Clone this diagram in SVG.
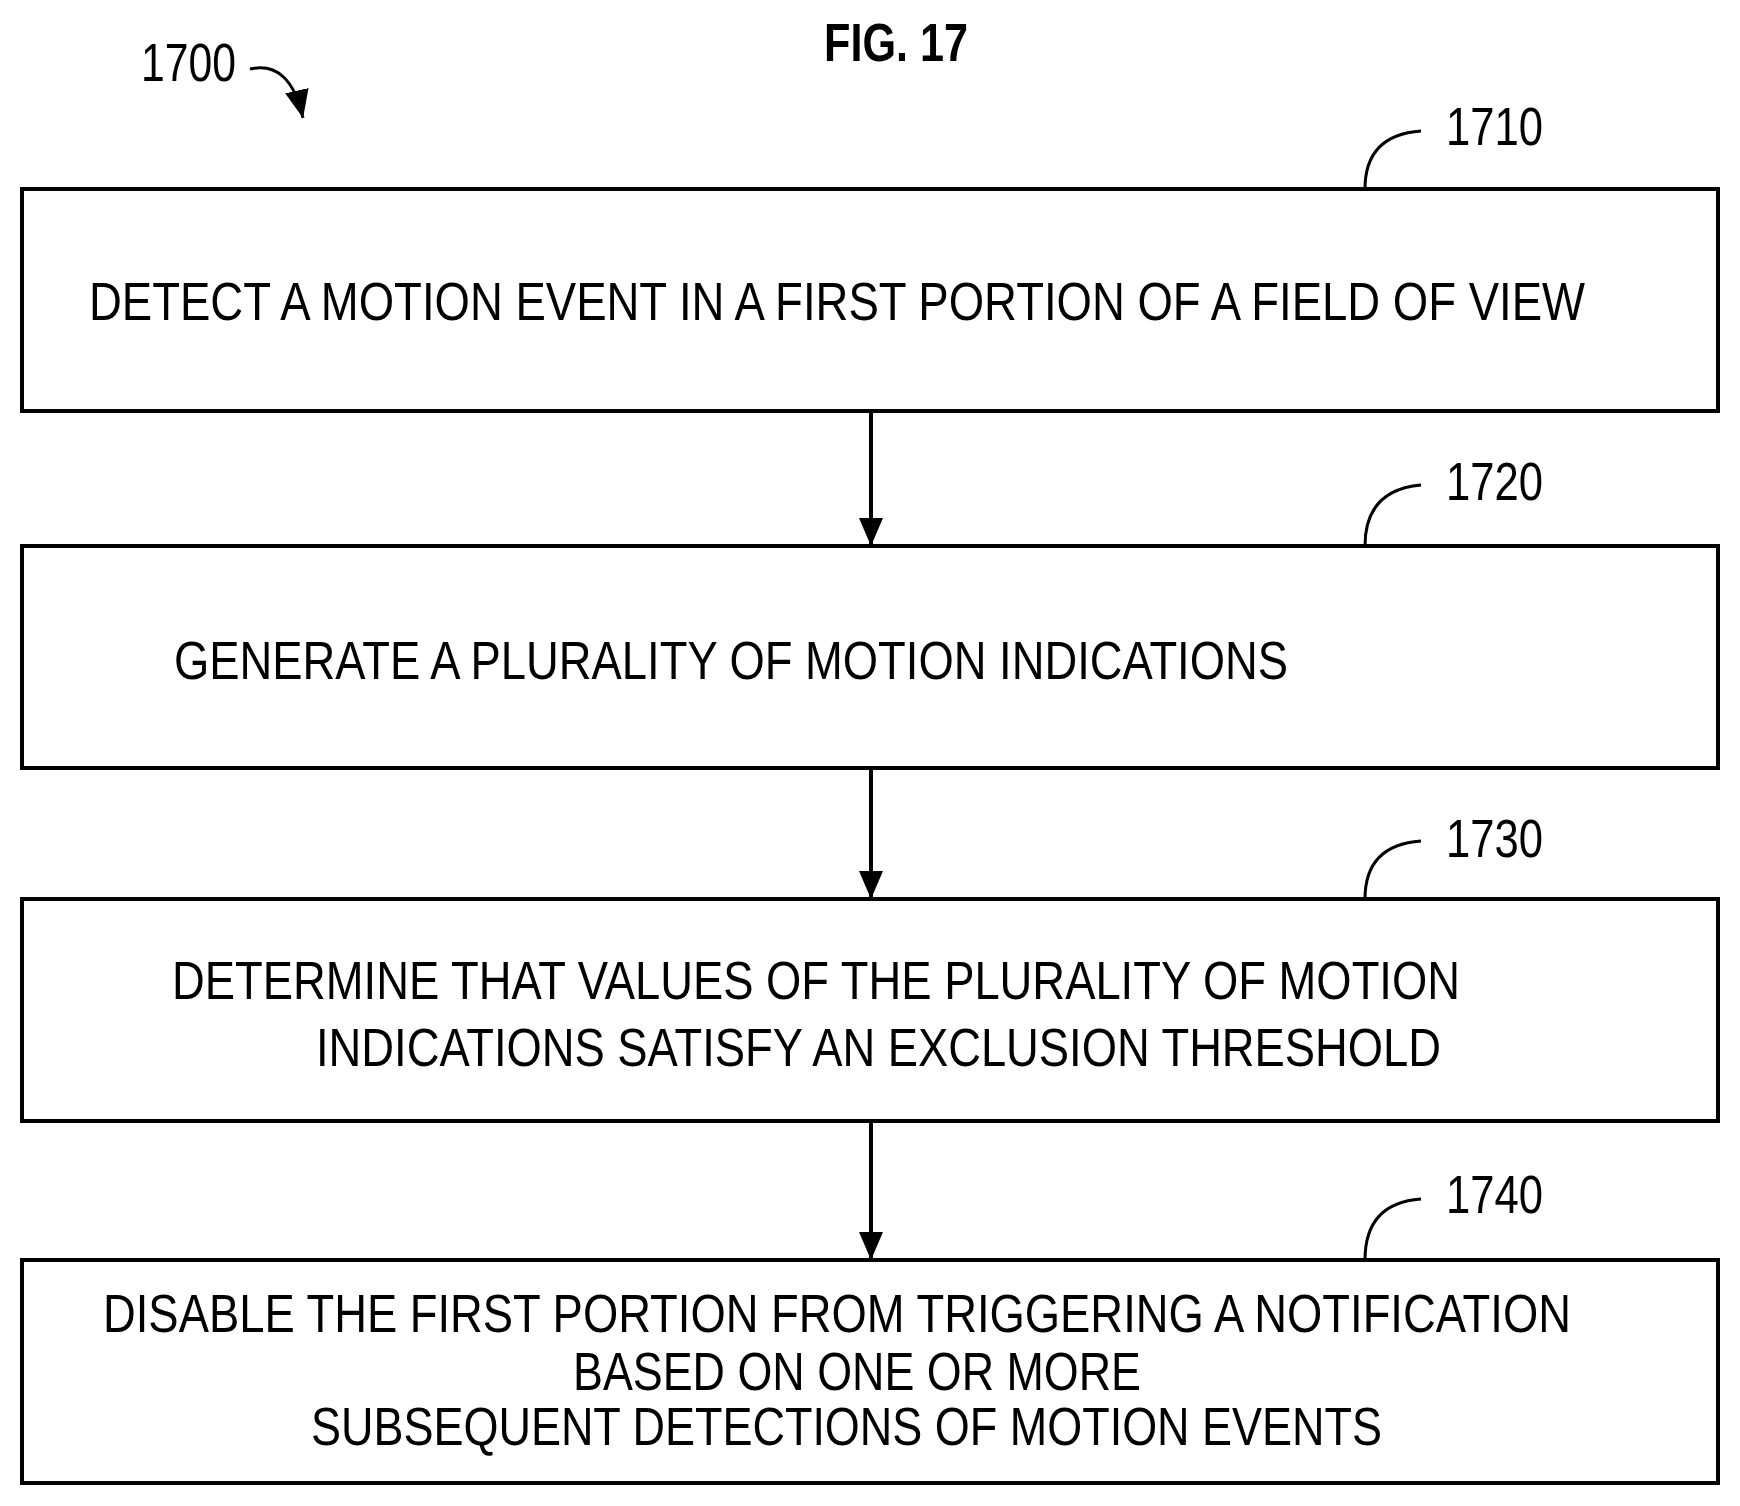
<svg xmlns="http://www.w3.org/2000/svg" width="1740" height="1506" viewBox="0 0 1740 1506">
<style>
.b{fill:#fff;stroke:#000;stroke-width:4}
.t{font-family:"Liberation Sans",Arial,sans-serif;font-size:54px;fill:#000}
.l{fill:none;stroke:#000;stroke-width:3}
</style>
<defs><marker id="ah" markerWidth="10" markerHeight="10" refX="9" refY="5" orient="auto" markerUnits="userSpaceOnUse"><path d="M0,0L10,5L0,10z" transform="scale(1)"/></marker>
<marker id="a2" markerWidth="30" markerHeight="30" refX="28" refY="14" orient="auto" markerUnits="userSpaceOnUse"><path d="M0,2L28,14L0,26z"/></marker></defs>
<rect width="1740" height="1506" fill="#fff"/>
<text class="t" x="824" y="61" font-weight="bold" font-size="46" textLength="144" lengthAdjust="spacingAndGlyphs">FIG. 17</text>
<g id="ref1700"><text class="t" x="141" y="81" textLength="95" lengthAdjust="spacingAndGlyphs">1700</text>
<path class="l" d="M250,69 Q290,60 303,118" marker-end="url(#a2)" stroke-width="4"/></g>
<g id="n1710"><rect class="b" x="22" y="189" width="1696" height="222"/>
<text class="t" x="89" y="320" textLength="1496" lengthAdjust="spacingAndGlyphs">DETECT A MOTION EVENT IN A FIRST PORTION OF A FIELD OF VIEW</text>
<path class="l" d="M1365,189 Q1365,135 1421,131"/><text class="t" x="1446" y="145" textLength="97" lengthAdjust="spacingAndGlyphs">1710</text></g>
<g id="n1720"><rect class="b" x="22" y="546" width="1696" height="222"/>
<text class="t" x="174" y="679" textLength="1114" lengthAdjust="spacingAndGlyphs">GENERATE A PLURALITY OF MOTION INDICATIONS</text>
<path class="l" d="M1365,546 Q1365,490 1421,485"/><text class="t" x="1446" y="500" textLength="97" lengthAdjust="spacingAndGlyphs">1720</text></g>
<g id="n1730"><rect class="b" x="22" y="899" width="1696" height="222"/>
<text class="t" x="172" y="999" textLength="1288" lengthAdjust="spacingAndGlyphs">DETERMINE THAT VALUES OF THE PLURALITY OF MOTION</text>
<text class="t" x="316" y="1066" textLength="1125" lengthAdjust="spacingAndGlyphs">INDICATIONS SATISFY AN EXCLUSION THRESHOLD</text>
<path class="l" d="M1365,899 Q1365,845 1421,841"/><text class="t" x="1446" y="857" textLength="97" lengthAdjust="spacingAndGlyphs">1730</text></g>
<g id="n1740"><rect class="b" x="22" y="1260" width="1696" height="223"/>
<text class="t" x="103" y="1332" textLength="1468" lengthAdjust="spacingAndGlyphs">DISABLE THE FIRST PORTION FROM TRIGGERING A NOTIFICATION</text>
<text class="t" x="573" y="1390" textLength="568" lengthAdjust="spacingAndGlyphs">BASED ON ONE OR MORE</text>
<text class="t" x="311" y="1445" textLength="1071" lengthAdjust="spacingAndGlyphs">SUBSEQUENT DETECTIONS OF MOTION EVENTS</text>
<path class="l" d="M1365,1260 Q1365,1203 1421,1199"/><text class="t" x="1446" y="1213" textLength="97" lengthAdjust="spacingAndGlyphs">1740</text></g>
<g id="connectors" stroke="#000" stroke-width="4" fill="none">
<path d="M871,411V546" marker-end="url(#a2)"/>
<path d="M871,768V899" marker-end="url(#a2)"/>
<path d="M871,1121V1260" marker-end="url(#a2)"/>
</g>
</svg>
